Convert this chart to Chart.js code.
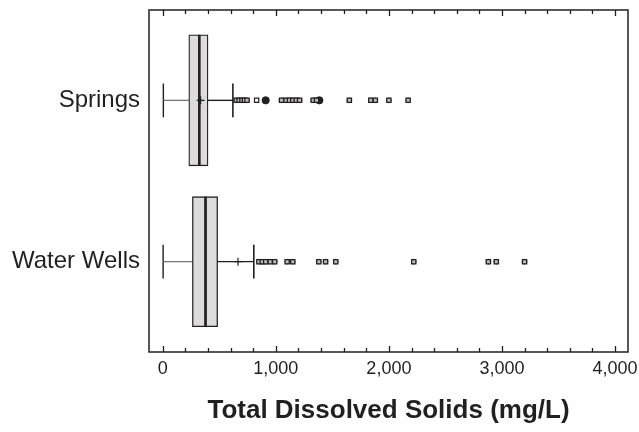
<!DOCTYPE html>
<html>
<head>
<meta charset="utf-8">
<script src="https://cdn.jsdelivr.net/npm/chart.js@4"></script>
<style>
  html, body { margin: 0; padding: 0; background: #fff; }
  #wrap { width: 639px; height: 432px; }
</style>
</head>
<body>
<div id="wrap"><canvas id="box"></canvas></div>
<script>
// Groups on the vertical axis (0 = top)
const groups = ['Springs', 'Water Wells'];
const xTicks = [0, 1000, 2000, 3000, 4000];

// Box statistics, mg/L
const whiskerLow  = [5, 3];
const quart1      = [230, 262];
const median      = [323, 378];
const quart3      = [400, 485];
const whiskerHigh = [620, 805];
const means       = [335, 665];

// Outliers
const springsOut  = [650, 675, 700, 722, 745, 1050, 1090, 1120, 1150, 1180, 1210, 1330, 1360, 1650, 1840, 1880, 2000, 2170];
const springsOpen = [830];
const springsDot  = [910, 1385];
const wellsOut    = [850, 880, 910, 950, 990, 1100, 1150, 1380, 1440, 1530, 2220, 2880, 2950, 3200];

const boxThick = [131, 130];
const capHalf = 0.105; // half height of whisker cap, in group units

const ink = '#231f20';
const boxFill = '#dcdcdc';

function pts(values, g) { return values.map(v => ({x: v, y: g})); }

const datasets = [];

// whiskers and caps
groups.forEach((name, g) => {
  const line = (data, w, c) => datasets.push({
    type: 'scatter', showLine: true, data: data, borderColor: c || ink,
    borderWidth: w, pointRadius: 0, order: 3
  });
  line([{x: whiskerLow[g], y: g}, {x: quart1[g], y: g}], 1.2, '#6d6d6d');
  line([{x: quart3[g], y: g}, {x: whiskerHigh[g], y: g}], 1.4);
  line([{x: whiskerLow[g], y: g - capHalf}, {x: whiskerLow[g], y: g + capHalf}], 1.4);
  line([{x: whiskerHigh[g], y: g - capHalf}, {x: whiskerHigh[g], y: g + capHalf}], 1.6);
});

// the two halves of each box
groups.forEach((name, g) => {
  const half = (a, b) => datasets.push({
    type: 'bar', indexAxis: 'y', grouped: false,
    data: [{y: g, x: [a, b]}],
    backgroundColor: boxFill, borderColor: ink, borderWidth: 1.3,
    borderSkipped: false, barThickness: boxThick[g], order: 2
  });
  half(quart1[g], median[g]);
  half(median[g], quart3[g]);
  // median bar
  const h = boxThick[g] / 2 / 161.3;
  datasets.push({
    type: 'scatter', showLine: true, order: 1,
    data: [{x: median[g], y: g - h}, {x: median[g], y: g + h}],
    borderColor: ink, borderWidth: 2.4, pointRadius: 0
  });
});

// means
datasets.push({
  type: 'scatter', order: 0,
  data: means.map((v, g) => ({x: v, y: g})),
  pointStyle: 'cross', pointRadius: 4, borderColor: ink, borderWidth: 1.2
});

// outliers: square with a cross inside
const outAll = pts(springsOut, 0).concat(pts(wellsOut, 1));
datasets.push({
  type: 'scatter', order: 0, data: outAll,
  pointStyle: 'rect', pointRadius: 3, backgroundColor: '#bdbdbd',
  borderColor: ink, borderWidth: 1.3
});
datasets.push({
  type: 'scatter', order: 0, data: outAll,
  pointStyle: 'cross', pointRadius: 2.8, borderColor: ink, borderWidth: 1
});
datasets.push({
  type: 'scatter', order: 0, data: pts(springsOpen, 0),
  pointStyle: 'rect', pointRadius: 3, backgroundColor: '#ffffff',
  borderColor: ink, borderWidth: 1.2
});
datasets.push({
  type: 'scatter', order: 0, data: pts(springsDot, 0),
  pointStyle: 'circle', pointRadius: 3.6, backgroundColor: ink,
  borderColor: ink, borderWidth: 1
});

// frame and inward tick marks
const framePlugin = {
  id: 'frame',
  afterDraw(chart) {
    const {ctx, chartArea: a} = chart;
    const xs = chart.scales.x;
    ctx.save();
    ctx.strokeStyle = ink;
    ctx.lineWidth = 1.5;
    ctx.strokeRect(a.left, a.top, a.right - a.left, a.bottom - a.top);
    ctx.lineWidth = 1.3;
    for (let v = 0; v <= 4000; v += 200) {
      const px = Math.round(xs.getPixelForValue(v)) + 0.5;
      const len = v % 1000 === 0 ? 6 : 4;
      ctx.beginPath();
      ctx.moveTo(px, a.bottom); ctx.lineTo(px, a.bottom - len);
      ctx.moveTo(px, a.top); ctx.lineTo(px, a.top + len);
      ctx.stroke();
    }
    ctx.restore();
  }
};

new Chart(document.getElementById('box'), {
  type: 'bar',
  data: {datasets: datasets},
  plugins: [framePlugin],
  options: {
    responsive: true,
    maintainAspectRatio: false,
    animation: false,
    indexAxis: 'y',
    layout: {padding: {top: 10, right: 11, left: 0, bottom: 0}},
    plugins: {legend: {display: false}, tooltip: {enabled: false}},
    scales: {
      x: {
        type: 'linear', min: -122, max: 4115, offset: false,
        grid: {display: false, drawTicks: false}, border: {display: false},
        afterBuildTicks: s => { s.ticks = xTicks.map(v => ({value: v})); },
        ticks: {
          padding: 6, color: ink, maxRotation: 0,
          font: {family: 'Liberation Sans', size: 18},
          callback: v => v.toLocaleString('en-US')
        },
        title: {
          display: true, text: 'Total Dissolved Solids (mg/L)', color: ink,
          font: {family: 'Liberation Sans', size: 26, weight: 'bold'},
          padding: {top: 10, bottom: 6}
        },
        afterFit: s => { s.height = 80; s.paddingLeft = 0; s.paddingRight = 0; }
      },
      y: {
        type: 'linear', min: -0.56, max: 1.56, reverse: true, offset: false,
        grid: {display: false, drawTicks: false}, border: {display: false},
        afterBuildTicks: s => { s.ticks = [{value: 0}, {value: 1}]; },
        ticks: {
          color: ink, padding: 9,
          font: {family: 'Liberation Sans', size: 24},
          callback: v => groups[v]
        },
        afterFit: s => { s.width = 149; s.paddingTop = 0; s.paddingBottom = 0; }
      }
    }
  }
});
</script>
</body>
</html>
